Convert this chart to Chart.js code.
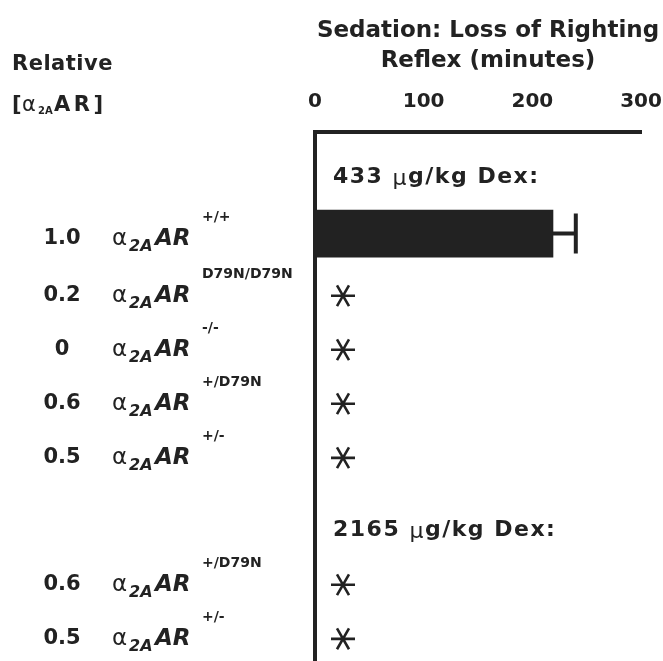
<!DOCTYPE html>
<html>
<head>
<meta charset="utf-8">
<script src="https://cdn.jsdelivr.net/npm/chart.js@4/dist/chart.umd.min.js"></script>
<style>
  html, body { margin: 0; padding: 0; background: #fff; }
  #wrap { width: 663px; height: 661px; }
</style>
</head>
<body>
<div id="wrap"><canvas id="chart" width="663" height="661"></canvas></div>
<script>
// --- data ---
const relativeLevel = ['1.0', '0.2', '0', '0.6', '0.5', '0.6', '0.5'];
const genotypes = ['+/+', 'D79N/D79N', '-/-', '+/D79N', '+/-', '+/D79N', '+/-'];
const rowPos = [1.05, 2.2, 3.2, 4.2, 5.2, 7.55, 8.55];
const sedationMin = [219, 0, 0, 0, 0, 0, 0];
const sedationErr = [21, 0, 0, 0, 0, 0, 0];
const significant = [false, true, true, true, true, true, true];
const doseLabels = ['433 \u00b5g/kg Dex:', '2165 \u00b5g/kg Dex:'];
const dosePos = [0, 6.55];
const xTicks = [0, 100, 200, 300];
const xTitle = ['Sedation: Loss of Righting', 'Reflex (minutes)'];

const INK = '#222';
const FONT = '"DejaVu Sans", sans-serif';

// error bars, asterisks, dose headers, axis title and left-hand labels
const annotations = {
    id: 'annotations',
    afterDatasetsDraw(chart) {
        const ctx = chart.ctx;
        const x = chart.scales.x;
        const y = chart.scales.y;
        ctx.save();
        ctx.strokeStyle = INK;
        ctx.fillStyle = INK;

        rowPos.forEach((p, i) => {
            const py = y.getPixelForValue(p);
            if (sedationErr[i] > 0) {
                const x0 = x.getPixelForValue(sedationMin[i]);
                const x1 = x.getPixelForValue(sedationMin[i] + sedationErr[i]);
                ctx.lineWidth = 4;
                ctx.beginPath();
                ctx.moveTo(x0, py); ctx.lineTo(x1, py);
                ctx.moveTo(x1, py - 20); ctx.lineTo(x1, py + 20);
                ctx.stroke();
            }
            if (significant[i]) {
                const cx = x.getPixelForValue(sedationMin[i]) + 28;
                const r = 12;
                ctx.lineWidth = 2.6;
                ctx.beginPath();
                [0, 60, 120].forEach(a => {
                    const t = a * Math.PI / 180;
                    ctx.moveTo(cx - r * Math.cos(t), py - r * Math.sin(t));
                    ctx.lineTo(cx + r * Math.cos(t), py + r * Math.sin(t));
                });
                ctx.stroke();
            }

            // left labels
            const ly = py + (i === 0 ? 5 : 0);
            ctx.textBaseline = 'middle';
            ctx.textAlign = 'center';
            ctx.font = 'bold 21px ' + FONT;
            ctx.fillText(relativeLevel[i], 62, ly);
            ctx.textAlign = 'left';
            ctx.font = '23px ' + FONT;
            ctx.fillText('\u03b1', 112, ly);
            ctx.font = 'italic bold 16px ' + FONT;
            ctx.fillText('2A', 129, ly + 8, 26);
            ctx.font = 'italic bold 23px ' + FONT;
            ctx.fillText('AR', 155, ly, 38);
            ctx.font = 'bold 14px ' + FONT;
            ctx.fillText(genotypes[i], 202, ly - 21, 96);
        });

        ctx.textAlign = 'left';
        ctx.textBaseline = 'middle';
        ctx.letterSpacing = '1.5px';
        dosePos.forEach((p, i) => {
            const py = y.getPixelForValue(p);
            const tx = x.getPixelForValue(0) + 18;
            const parts = doseLabels[i].split('\u00b5');
            ctx.font = 'bold 22px ' + FONT;
            ctx.fillText(parts[0], tx, py);
            let w = ctx.measureText(parts[0]).width;
            ctx.font = '22px ' + FONT;
            ctx.fillText('\u00b5', tx + w, py + 2);
            w += ctx.measureText('\u00b5').width;
            ctx.font = 'bold 22px ' + FONT;
            ctx.fillText(parts[1], tx + w, py);
        });

        // axis title above the ticks
        ctx.letterSpacing = '0px';
        ctx.textAlign = 'center';
        ctx.font = 'bold 23px ' + FONT;
        xTitle.forEach((line, i) => ctx.fillText(line, 488, 31 + i * 30));

        // column header on the left
        ctx.textAlign = 'left';
        ctx.letterSpacing = '0.5px';
        ctx.font = 'bold 21px ' + FONT;
        ctx.fillText('Relative', 12, 65);
        ctx.letterSpacing = '0px';
        ctx.fillText('[', 12, 106);
        ctx.font = '21px ' + FONT;
        ctx.fillText('\u03b1', 22, 106);
        ctx.font = 'bold 10px ' + FONT;
        ctx.fillText('2A', 38, 111);
        ctx.letterSpacing = '3.5px';
        ctx.font = 'bold 21px ' + FONT;
        ctx.fillText('AR]', 54, 106);
        ctx.restore();
    }
};

const ctx = document.getElementById('chart').getContext('2d');
new Chart(ctx, {
    type: 'bar',
    data: {
        datasets: [{
            data: rowPos.map((p, i) => ({ x: sedationMin[i], y: p })),
            backgroundColor: INK,
            borderWidth: 0,
            barThickness: 47
        }]
    },
    options: {
        indexAxis: 'y',
        responsive: false,
        animation: false,
        layout: { padding: { top: 0, right: 22, bottom: 0, left: 0 } },
        plugins: { legend: { display: false }, tooltip: { enabled: false } },
        scales: {
            x: {
                type: 'linear',
                position: 'top',
                min: 0,
                max: 300,
                afterBuildTicks: s => { s.ticks = xTicks.map(v => ({ value: v })); },
                afterFit: s => { s.height = 132; s.paddingRight = 0; s.paddingLeft = 0; },
                grid: { display: false, drawTicks: false },
                border: { display: true, width: 4, color: INK },
                ticks: { color: INK, padding: 18, font: { family: FONT, size: 20, weight: 'bold' } }
            },
            y: {
                type: 'linear',
                reverse: true,
                offset: false,
                min: -0.83,
                max: 8.96,
                afterFit: s => { s.width = 315; },
                grid: { display: false, drawTicks: false },
                border: { display: true, width: 4, color: INK },
                ticks: { display: false }
            }
        }
    },
    plugins: [annotations]
});
</script>
</body>
</html>
